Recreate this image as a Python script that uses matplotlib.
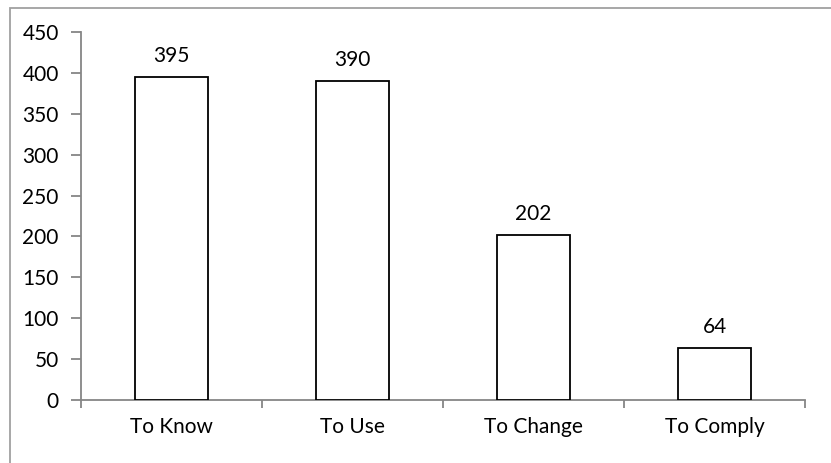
import matplotlib.pyplot as plt
from matplotlib.patches import Rectangle

categories = ["To Know", "To Use", "To Change", "To Comply"]
counts = [395, 390, 202, 64]
yticks = [0, 50, 100, 150, 200, 250, 300, 350, 400, 450]

plt.rcParams['font.family'] = ['Lato', 'DejaVu Sans']
axis_grey = '#868686'
fs = 15

fig = plt.figure(figsize=(8.31, 4.63), dpi=100)
ax = fig.add_axes([81 / 831, 1 - 400 / 463, 724 / 831, 368 / 463])

# chart frame, open on the right and bottom edges
fig.patches.append(Rectangle((10 / 831, -0.05), 1.1, 1 - 8 / 463 + 0.05,
                             transform=fig.transFigure, fill=False,
                             edgecolor='#a0a0a0', linewidth=1.3))

x = range(len(categories))
bars = ax.bar(x, counts, width=0.4, color='white', edgecolor='black', linewidth=1.3, zorder=3)
for i, v in enumerate(counts):
    ax.annotate(str(v), (i, v), xytext=(0, 8), textcoords='offset points',
                ha='center', va='bottom', fontsize=fs)

ax.set_xlim(-0.5, len(categories) - 0.5)
ax.set_ylim(0, 450)
ax.set_yticks(yticks)
ax.set_yticklabels([str(t) for t in yticks], fontsize=fs)
ax.set_xticks(x)
ax.set_xticklabels(categories, fontsize=fs)
ax.set_xticks([i - 0.5 for i in range(len(categories) + 1)], minor=True)
ax.tick_params(axis='x', which='major', length=0, pad=12)
ax.tick_params(axis='x', which='minor', length=6, color=axis_grey, width=1.3)
ax.tick_params(axis='y', length=7, color=axis_grey, width=1.3, pad=9)

for side in ['top', 'right']:
    ax.spines[side].set_visible(False)
for side in ['left', 'bottom']:
    ax.spines[side].set_color(axis_grey)
    ax.spines[side].set_linewidth(1.3)

fig.savefig('out.png', dpi=100)
